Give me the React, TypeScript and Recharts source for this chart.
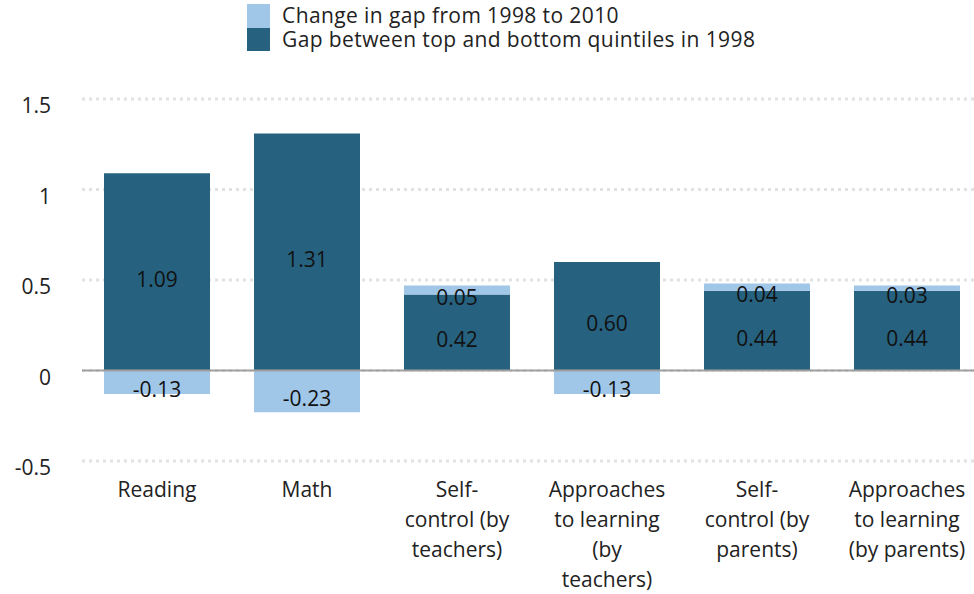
import { BarChart, Bar, XAxis, YAxis, CartesianGrid, ReferenceLine, LabelList } from 'recharts'

const categories = [
  'Reading',
  'Math',
  'Self-\ncontrol (by\nteachers)',
  'Approaches\nto learning\n(by\nteachers)',
  'Self-\ncontrol (by\nparents)',
  'Approaches\nto learning\n(by parents)',
]
const gap1998 = [1.09, 1.31, 0.42, 0.6, 0.44, 0.44]
const change = [-0.13, -0.23, 0.05, -0.13, 0.04, 0.03]
const yTicks = [-0.5, 0, 0.5, 1, 1.5]

const DARK = '#26627f'
const LIGHT = '#a0c6e8'
const FONT = '"Open Sans", Lato, sans-serif'

const data = categories.map((name, i) => ({ name, gap: gap1998[i], change: change[i] }))

const CategoryTick = ({ x, y, payload }: any) => {
  const lines = String(payload.value).split('\n')
  return (
    <text x={x} y={y} textAnchor="middle" fontSize={21} fill="#222" fontFamily={FONT}>
      {lines.map((l, i) => (
        <tspan key={i} x={x} y={y + 28 + i * 30} dominantBaseline="central">{l}</tspan>
      ))}
    </text>
  )
}

const ValueLabel = ({ x, y, width, height, value }: any) => (
  <text
    x={x + width / 2}
    y={y + height / 2 + 7}
    textAnchor="middle"
    dominantBaseline="central"
    fontSize={21}
    fill="#111"
    fontFamily={FONT}
  >
    {Number(value).toFixed(2)}
  </text>
)

export default function App() {
  return (
    <div style={{ position: 'absolute', left: 0, top: 0, width: 974, height: 594, overflow: 'hidden', background: '#fff', fontFamily: FONT }}>
      {/* legend */}
      <div style={{ position: 'absolute', left: 247, top: 4, fontSize: 21, letterSpacing: 0.4, color: '#222', lineHeight: '23.5px' }}>
        <div style={{ display: 'flex', alignItems: 'center', height: 23.5 }}>
          <span style={{ width: 23, height: 23.5, background: LIGHT, display: 'inline-block', marginRight: 12 }} />
          Change in gap from 1998 to 2010
        </div>
        <div style={{ display: 'flex', alignItems: 'center', height: 23.5 }}>
          <span style={{ width: 23, height: 23.5, background: DARK, display: 'inline-block', marginRight: 12 }} />
          Gap between top and bottom quintiles in 1998
        </div>
      </div>
      <BarChart
        width={982}
        height={594}
        data={data}
        stackOffset="sign"
        margin={{ top: 99, right: 0, bottom: 0, left: 0 }}
        barSize={106}
      >
        <CartesianGrid horizontal vertical={false} stroke="#e2e2e2" strokeWidth={3} strokeDasharray="3 4" />
        <ReferenceLine y={0} stroke="#a0a0a0" strokeWidth={2} />
        <XAxis
          dataKey="name"
          axisLine={false}
          tickLine={false}
          tickSize={0}
          tickMargin={0}
          height={133}
          interval={0}
          tick={<CategoryTick />}
        />
        <YAxis
          domain={[-0.5, 1.5]}
          ticks={yTicks}
          width={82}
          axisLine={false}
          tickLine={false}
          tickSize={0}
          tickMargin={31}
          tick={{ fontSize: 21, fill: '#222', fontFamily: FONT, dy: 7 }}
        />
        <Bar dataKey="gap" stackId="a" fill={DARK} isAnimationActive={false}>
          <LabelList dataKey="gap" content={<ValueLabel />} />
        </Bar>
        <Bar dataKey="change" stackId="a" fill={LIGHT} isAnimationActive={false}>
          <LabelList dataKey="change" content={<ValueLabel />} />
        </Bar>
      </BarChart>
    </div>
  )
}
